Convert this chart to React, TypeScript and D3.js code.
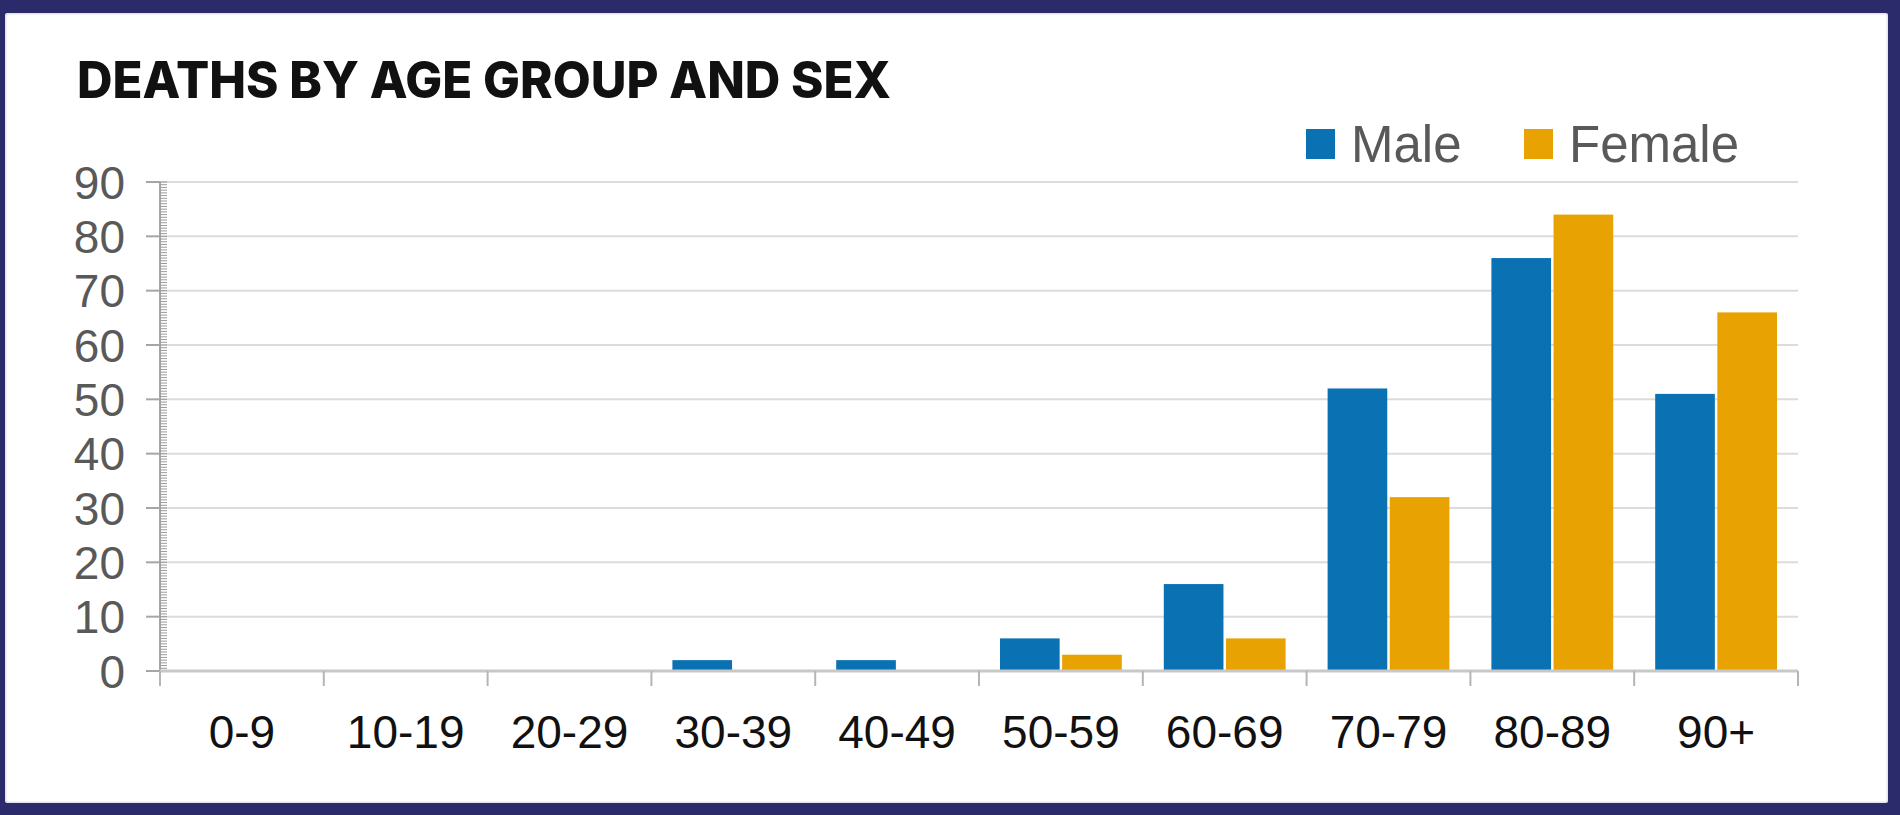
import React from "react";
import * as d3 from "d3";

const categories = ["0-9", "10-19", "20-29", "30-39", "40-49", "50-59", "60-69", "70-79", "80-89", "90+"];
const series = ["Male", "Female"];
const maleValues = [0, 0, 0, 2, 2, 6, 16, 52, 76, 51];
const femaleValues = [0, 0, 0, 0, 0, 3, 6, 32, 84, 66];
const yTicks = [0, 10, 20, 30, 40, 50, 60, 70, 80, 90];
const colors = ["#0a71b3", "#e8a202"];
const title = "DEATHS BY AGE GROUP AND SEX";

const W = 1900;
const H = 815;

export default function App() {
  const left = 160;
  const right = 1798;
  const top = 182;
  const bottom = 671;

  const x = d3.scaleBand<string>().domain(categories).range([left, right]).paddingInner(0).paddingOuter(0);
  const bw = x.bandwidth();
  const xs = d3.scaleBand<string>().domain(series).range([21, bw - 21]).paddingInner(0.04).paddingOuter(0);
  const y = d3.scaleLinear().domain([0, 90]).range([bottom, top]);
  const minor = d3.range(0, 90.01, 0.5);
  const values = [maleValues, femaleValues];

  return (
    <svg width={W} height={H} style={{ position: "absolute", left: 0, top: 0, display: "block" }}>
      <rect x={0} y={0} width={W} height={H} fill="#2b2a6a" />
      <rect x={5} y={13} width={1883} height={790} fill="#e4e3f0" rx={2} />
      <rect x={6.5} y={14.5} width={1880} height={787} fill="#ffffff" rx={2} />

      <text x={77} y={98} fontFamily="Inter, 'Open Sans', sans-serif" fontWeight={800} fontSize={51}
        fill="#111" textLength={814} lengthAdjust="spacingAndGlyphs">{title}</text>

      {/* legend */}
      {series.map((s, i) => {
        const lx = i === 0 ? 1306 : 1524;
        return (
          <g key={s}>
            <rect x={lx} y={129} width={29} height={30} fill={colors[i]} />
            <text x={lx + 45} y={162} fontFamily="'Liberation Sans', Arial, sans-serif" fontSize={51} fill="#595959">{s}</text>
          </g>
        );
      })}

      {/* gridlines */}
      {yTicks.filter((t) => t > 0).map((t) => (
        <line key={t} x1={left} x2={right} y1={y(t)} y2={y(t)} stroke="#dcdcdc" strokeWidth={2} />
      ))}

      {/* bars */}
      {categories.map((c, ci) => (
        <g key={c} transform={`translate(${x(c)},0)`}>
          {series.map((s, si) => {
            const v = values[si][ci];
            if (v <= 0) return null;
            return (
              <rect key={s} x={xs(s)} y={y(v)} width={xs.bandwidth()} height={y(0) - y(v)} fill={colors[si]} />
            );
          })}
        </g>
      ))}

      {/* y axis */}
      <line x1={left} x2={left} y1={top} y2={bottom + 14} stroke="#a6a6a6" strokeWidth={2} />
      {minor.map((m) => (
        <line key={m} x1={left} x2={left + 7} y1={y(m)} y2={y(m)} stroke="#9a9a9a" strokeWidth={1} />
      ))}
      {yTicks.map((t) => (
        <g key={t}>
          <line x1={left - 14} x2={left} y1={y(t)} y2={y(t)} stroke="#a6a6a6" strokeWidth={2} />
          <text x={125} y={y(t)} dy="0.36em" textAnchor="end" fontFamily="'Liberation Sans', Arial, sans-serif"
            fontSize={46} fill="#595959">{t}</text>
        </g>
      ))}

      {/* x axis */}
      <line x1={left} x2={right} y1={bottom} y2={bottom} stroke="#c8c8c8" strokeWidth={3} />
      {categories.concat(["end"]).map((c, i) => {
        const xx = i < categories.length ? (x(c) as number) : right;
        return <line key={c} x1={xx} x2={xx} y1={bottom} y2={bottom + 15} stroke="#b5b5b5" strokeWidth={2} />;
      })}
      {categories.map((c) => (
        <text key={c} x={(x(c) as number) + bw / 2} y={748} textAnchor="middle"
          fontFamily="'Liberation Sans', Arial, sans-serif" fontSize={46} fill="#111">{c}</text>
      ))}
    </svg>
  );
}
